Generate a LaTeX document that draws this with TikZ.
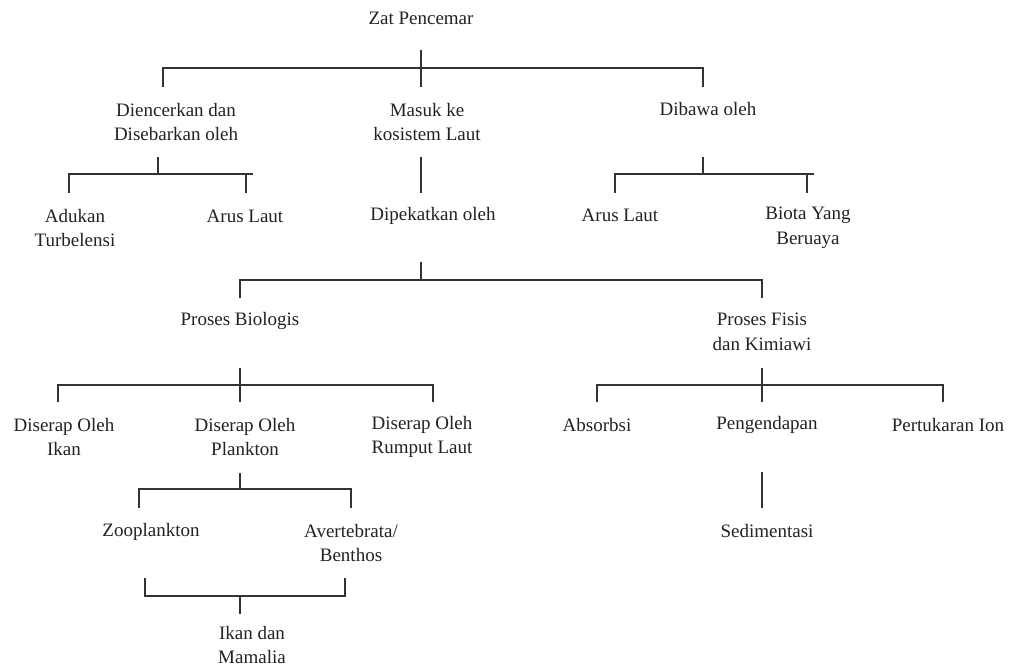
\documentclass[tikz,border=0pt]{standalone}
\usepackage{fontspec}
\setmainfont{Liberation Serif}
\definecolor{ink}{HTML}{333333}
\definecolor{txt}{HTML}{222222}
\begin{document}
\begin{tikzpicture}[x=1pt,y=-1pt,
  lbl/.style={inner sep=0pt, align=center, font=\fontsize{19}{24.5}\selectfont, text=txt},
  ln/.style={draw=ink, line width=1.4pt}]
\useasboundingbox (0,0) rectangle (1013,667);
% nodes
\node[lbl] (zat) at (421,18) {Zat Pencemar};
\node[lbl] (dien) at (176,122) {Diencerkan dan\\Disebarkan oleh};
\node[lbl] (masuk) at (427,122) {Masuk ke\\kosistem Laut};
\node[lbl] (dibawa) at (708,109) {Dibawa oleh};
\node[lbl] (aduk) at (75,228) {Adukan\\Turbelensi};
\node[lbl] (arusA) at (245,216) {Arus Laut};
\node[lbl] (dipek) at (433,216) {Dipekatkan oleh};
\node[lbl] (arusB) at (620,215) {Arus Laut};
\node[lbl] (biota) at (808,228) {Biota Yang\\Beruaya};
\node[lbl] (biol) at (240,321) {Proses Biologis};
\node[lbl] (fisis) at (762,332) {Proses Fisis\\dan Kimiawi};
\node[lbl] (ikanA) at (64,437) {Diserap Oleh\\Ikan};
\node[lbl] (plank) at (245,437) {Diserap Oleh\\Plankton};
\node[lbl] (rumput) at (422,437) {Diserap Oleh\\Rumput Laut};
\node[lbl] (absor) at (597,425) {Absorbsi};
\node[lbl] (pengen) at (767,425) {Pengendapan};
\node[lbl] (tukar) at (948,425) {Pertukaran Ion};
\node[lbl] (zoo) at (151,532) {Zooplankton};
\node[lbl] (avert) at (351,543) {Avertebrata/\\Benthos};
\node[lbl] (sedim) at (767,531) {Sedimentasi};
\node[lbl] (mamal) at (252,645) {Ikan dan\\Mamalia};
% connector points
\coordinate (a0) at (421,50); \coordinate (a1) at (421,87); \coordinate (aJ) at (421,68);
\coordinate (aL) at (163,87); \coordinate (aR) at (703,87);
\coordinate (b0) at (158,157); \coordinate (bJ) at (158,174); \coordinate (bE) at (253,174);
\coordinate (bL) at (69,193); \coordinate (bR) at (246,193);
\coordinate (c0) at (421,157); \coordinate (c1) at (421,193);
\coordinate (d0) at (703,157); \coordinate (dJ) at (703,174); \coordinate (dE) at (814,174);
\coordinate (dL) at (615,193); \coordinate (dR) at (807,193);
\coordinate (e0) at (421,262); \coordinate (eJ) at (421,280);
\coordinate (eL) at (240,298); \coordinate (eR) at (762,298);
\coordinate (f0) at (240,368); \coordinate (f1) at (240,402); \coordinate (fJ) at (240,385);
\coordinate (fL) at (58,402); \coordinate (fR) at (433,402);
\coordinate (g0) at (762,368); \coordinate (g1) at (762,402); \coordinate (gJ) at (762,385);
\coordinate (gL) at (597,402); \coordinate (gR) at (943,402);
\coordinate (h0) at (240,473); \coordinate (hJ) at (240,489);
\coordinate (hL) at (139,508); \coordinate (hR) at (351,508);
\coordinate (iL) at (145,578); \coordinate (iR) at (345,578);
\coordinate (iJ) at (240,596); \coordinate (i1) at (240,614);
\coordinate (k0) at (762,472); \coordinate (k1) at (762,508);
% connectors
\draw[ln] (a0) -- (a1);
\draw[ln] (aL) |- (aJ) -| (aR);
\draw[ln] (b0) -- (bJ);
\draw[ln] (bL) |- (bE);
\draw[ln] (bR) -- (bR |- bE);
\draw[ln] (c0) -- (c1);
\draw[ln] (d0) -- (dJ);
\draw[ln] (dL) |- (dE);
\draw[ln] (dR) -- (dR |- dE);
\draw[ln] (e0) -- (eJ);
\draw[ln] (eL) |- (eJ) -| (eR);
\draw[ln] (f0) -- (f1);
\draw[ln] (fL) |- (fJ) -| (fR);
\draw[ln] (g0) -- (g1);
\draw[ln] (gL) |- (gJ) -| (gR);
\draw[ln] (h0) -- (hJ);
\draw[ln] (hL) |- (hJ) -| (hR);
\draw[ln] (iL) |- (iJ) -| (iR);
\draw[ln] (iJ) -- (i1);
\draw[ln] (k0) -- (k1);
\end{tikzpicture}
\end{document}
